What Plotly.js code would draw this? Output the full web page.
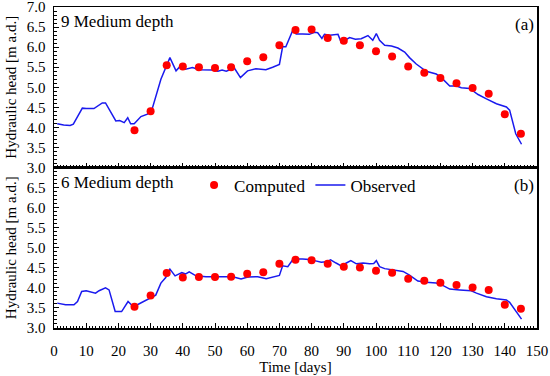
<!DOCTYPE html>
<html>
<head>
<meta charset="utf-8">
<script src="https://cdn.plot.ly/plotly-3.0.1.min.js"></script>
<style>html,body{margin:0;padding:0;background:#fff;}#chart{width:550px;height:376px;}</style>
</head>
<body>
<div id="chart"></div>
<script>
// Computed heads (days 25..145 every 5)
const compDays = [25,30,35,40,45,50,55,60,65,70,75,80,85,90,95,100,105,110,115,120,125,130,135,140,145];
const compTop = [3.93,4.40,5.55,5.52,5.50,5.48,5.50,5.65,5.75,6.05,6.43,6.44,6.23,6.16,6.05,5.90,5.77,5.52,5.36,5.23,5.10,4.98,4.84,4.33,3.84];
const compBot = [3.53,3.81,4.37,4.26,4.27,4.27,4.28,4.35,4.39,4.60,4.70,4.69,4.60,4.53,4.51,4.43,4.38,4.23,4.18,4.13,4.07,4.01,3.95,3.58,3.48];

// Observed, panel (a) 9 Medium depth
const obsTopDays = [1,3,5,6,8.8,10,12.4,15,16,19.2,20.4,21.8,22.9,23.8,24.9,27,29,30.6,33.2,34.7,36,37.9,39.7,40.9,43,45.1,49.3,50.9,52.2,53.5,56,57.9,60.1,62.7,65.8,67.9,70,71,72,74.2,75.2,77.2,79.3,80.9,81.9,83.2,84,85.6,88.2,89.2,90.2,91.8,93.6,95.4,97.5,99,100.1,101.1,102.7,104.8,106.8,108.9,110.4,112.5,115.6,118.7,120.3,122.9,125,126.5,129.1,131.7,134.3,137.4,140.5,141.5,143.4,145.2];
const obsTop = [4.09,4.06,4.05,4.08,4.48,4.47,4.47,4.61,4.61,4.16,4.17,4.12,4.24,4.09,4.09,4.27,4.33,4.49,5.20,5.47,5.74,5.41,5.57,5.45,5.49,5.44,5.43,5.40,5.43,5.40,5.48,5.24,5.41,5.46,5.44,5.50,5.57,6.01,6.01,6.43,6.33,6.33,6.32,6.37,6.36,6.22,6.32,6.30,6.32,6.12,6.17,6.24,6.20,6.21,6.29,6.17,6.34,6.17,6.05,6.03,5.98,5.88,5.74,5.58,5.40,5.33,5.24,5.03,5.03,4.99,4.97,4.82,4.71,4.59,4.51,4.43,3.84,3.58];

// Observed, panel (b) 6 Medium depth
const obsBotDays = [1,3.6,6.2,7.3,8.6,10,12.9,14,16,17.1,19,21,23,24.4,25.9,30,31.6,33.2,34.7,36,37.6,39.7,40.9,42,44.1,47.2,51.3,55.5,58.1,60.2,63.3,65.9,70,71,72.6,74.3,77.2,79.3,80.9,83,84.5,85.9,87.6,89.2,90.8,92.2,93.9,96,98,99.3,100.1,101.1,102.7,105.3,108.4,110.4,113,115.6,118.7,120.3,122.9,126,128,129.6,131.2,134.3,137.4,140.5,141.5,143.4,145.2];
const obsBot = [3.62,3.58,3.58,3.66,3.91,3.93,3.87,3.93,4.00,3.95,3.41,3.41,3.66,3.55,3.58,3.74,3.82,4.12,4.26,4.47,4.30,4.38,4.35,4.40,4.30,4.28,4.28,4.28,4.22,4.27,4.28,4.23,4.31,4.55,4.53,4.72,4.72,4.71,4.68,4.64,4.65,4.70,4.62,4.55,4.62,4.68,4.60,4.62,4.60,4.61,4.68,4.53,4.48,4.45,4.41,4.32,4.17,4.14,4.12,4.08,3.97,3.95,3.93,3.93,3.87,3.78,3.73,3.70,3.64,3.41,3.22];

const xTicks = [0,10,20,30,40,50,60,70,80,90,100,110,120,130,140,150];
const yTicksTop = [3.0,3.5,4.0,4.5,5.0,5.5,6.0,6.5,7.0];
const yTicksBot = [3.0,3.5,4.0,4.5,5.0,5.5,6.0,6.5];

const RED = '#ff0000', BLUE = '#1a1aee';
const FONT = '"Liberation Serif", serif';
const tf = {family: FONT, size: 15, color: '#000'};

const traces = [
  {x: obsTopDays, y: obsTop, xaxis: 'x2', yaxis: 'y2', mode: 'lines', line: {color: BLUE, width: 1.5}, showlegend: false, name: 'Observed'},
  {x: compDays, y: compTop, xaxis: 'x2', yaxis: 'y2', mode: 'markers', marker: {color: RED, size: 8}, showlegend: false, name: 'Computed'},
  {x: obsBotDays, y: obsBot, xaxis: 'x', yaxis: 'y', mode: 'lines', line: {color: BLUE, width: 1.5}, name: 'Observed', legendrank: 2},
  {x: compDays, y: compBot, xaxis: 'x', yaxis: 'y', mode: 'markers', marker: {color: RED, size: 8}, name: 'Computed', legendrank: 1}
];

const xCommon = {
  range: [0, 150], tickvals: xTicks, ticks: 'inside', ticklen: 5, tickcolor: '#000', tickfont: tf,
  ticklabeloverflow: 'allow',
  showline: true, linecolor: '#000', linewidth: 1.5, mirror: true, showgrid: false, zeroline: false,
  minor: {dtick: 1, ticks: 'inside', ticklen: 2.5, tickcolor: '#000'}
};
const yCommon = {
  range: [3, 7.002], ticks: 'inside', ticklen: 5, tickcolor: '#000', tickformat: '.1f', tickfont: tf,
  ticklabelstandoff: 4, ticklabeloverflow: 'allow',
  showline: true, linecolor: '#000', linewidth: 1.5, mirror: true, showgrid: false, zeroline: false,
  minor: {dtick: 0.1, ticks: 'inside', ticklen: 2.5, tickcolor: '#000'},
  title: {text: 'Hydraulic head [m a.d.]', font: {size: 15, family: FONT, color: '#000'}, standoff: 6}
};

const layout = {
  width: 550, height: 376,
  margin: {l: 54, r: 13, t: 7, b: 48},
  paper_bgcolor: '#fff', plot_bgcolor: '#fff',
  font: {family: FONT, size: 15, color: '#000'},
  xaxis: Object.assign({}, xCommon, {anchor: 'y', ticklabelstandoff: 8, title: {text: 'Time [days]', font: {size: 15, family: FONT, color: '#000'}, standoff: 4}}),
  xaxis2: Object.assign({}, xCommon, {anchor: 'y2', showticklabels: false, matches: 'x'}),
  yaxis: Object.assign({}, yCommon, {domain: [0, 0.5], anchor: 'x', tickvals: yTicksBot}),
  yaxis2: Object.assign({}, yCommon, {domain: [0.5, 1], anchor: 'x2', tickvals: yTicksTop}),
  showlegend: true,
  legend: {orientation: 'h', x: 0.29, y: 0.5, xanchor: 'left', yanchor: 'top', font: {size: 17, family: FONT, color: '#000'}, bgcolor: 'rgba(0,0,0,0)', itemwidth: 30, tracegroupgap: 0},
  annotations: [
    {text: '9 Medium depth', xref: 'paper', yref: 'paper', x: 0.01, y: 0.99, xanchor: 'left', yanchor: 'top', showarrow: false, font: {size: 17, family: FONT, color: '#000'}},
    {text: '6 Medium depth', xref: 'paper', yref: 'paper', x: 0.01, y: 0.49, xanchor: 'left', yanchor: 'top', showarrow: false, font: {size: 17, family: FONT, color: '#000'}},
    {text: '(a)', xref: 'paper', yref: 'paper', x: 0.998, y: 0.98, xanchor: 'right', yanchor: 'top', showarrow: false, font: {size: 17, family: FONT, color: '#000'}},
    {text: '(b)', xref: 'paper', yref: 'paper', x: 0.998, y: 0.48, xanchor: 'right', yanchor: 'top', showarrow: false, font: {size: 17, family: FONT, color: '#000'}}
  ]
};

Plotly.newPlot('chart', traces, layout, {staticPlot: true, displayModeBar: false});
</script>
</body>
</html>
